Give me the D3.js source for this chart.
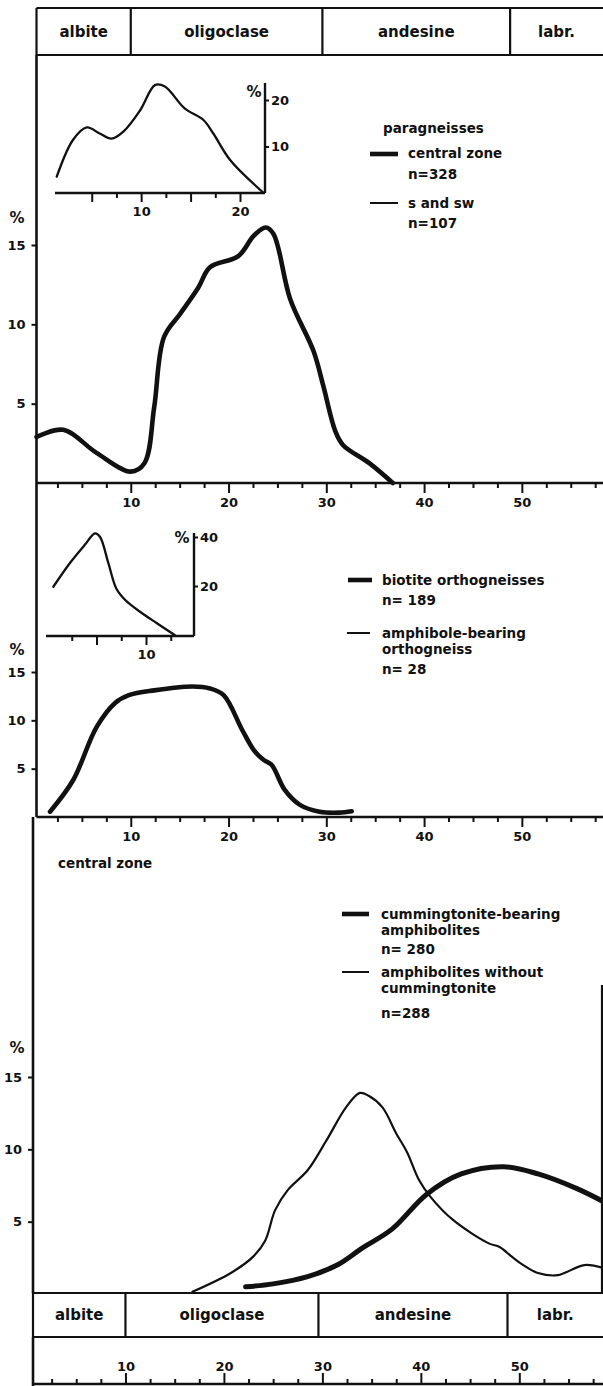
<!DOCTYPE html>
<html>
<head>
<meta charset="utf-8">
<script src="https://cdn.jsdelivr.net/npm/d3@7"></script>
<style>
body { margin: 0; background: #fff; }
svg text { font-family: "DejaVu Sans", sans-serif; font-weight: bold; fill: #111; }
.tick text { font-size: 13px; }
.hdr { font-size: 15px; }
.leg { font-size: 13.5px; }
.pct { font-size: 15px; }
</style>
</head>
<body>
<script>
// ------------  DATA  ------------
const classNames = ["albite", "oligoclase", "andesine", "labr."];
const classBreaks = [0, 10, 29.6, 48.8, 60];   // An % boundaries of the classes
const axisTicks = [10, 20, 30, 40, 50];
const pctTicks = [5, 10, 15];

// paragneisses (An %, frequency %)
const paraCentral = [[0.36,2.9],[3.1,3.35],[6.5,1.9],[10.0,0.72],[11.4,1.25],[12.4,4.8],[13.4,9.2],[15.1,10.7],[16.9,12.3],[18.1,13.6],[21.0,14.3],[22.6,15.6],[23.8,16.1],[24.6,15.7],[26.3,11.6],[28.7,8.3],[29.7,6.1],[30.9,3.3],[31.7,2.4],[34.4,1.25],[36.8,0]];
const paraSouth = [[1.46,3.5],[3.1,11.4],[4.5,14.1],[5.8,12.8],[7.0,11.7],[8.2,13.2],[9.9,17.8],[11.4,23.2],[12.4,22.9],[14.4,18.2],[16.3,15.7],[17.3,12.8],[19.0,7.1],[22.4,0]];
const paraInsetX = [5, 10, 15, 20];
const paraInsetY = [10, 20];

// orthogneisses
const bioOrtho = [[1.74,0.55],[4.1,3.8],[6.5,9.3],[8.4,11.8],[9.8,12.6],[12.4,13.1],[16.3,13.5],[18.1,13.3],[19.5,12.6],[21.4,9.0],[22.6,6.9],[23.6,5.9],[24.4,5.4],[25.75,2.8],[27.3,1.25],[29.3,0.55],[31.3,0.45],[32.6,0.6]];
const amphOrtho = [[0.64,19.7],[2.3,29.3],[3.8,36.7],[4.85,41.5],[5.35,40.1],[6.2,29.3],[7.0,19],[7.9,14.3],[9.4,9.5],[11.1,4.8],[12.9,0]];
const orthoInsetX = [5, 10];
const orthoInsetY = [20, 40];

// amphibolites, central zone
const amphCumm = [[22.2,0.5],[25,0.7],[28.5,1.2],[31.5,2.0],[34.0,3.15],[37.1,4.5],[40.6,6.9],[44.1,8.3],[48.4,8.8],[51.9,8.3],[55.8,7.3],[58.5,6.4]];
const amphNoCumm = [[16.8,0.15],[20.7,1.45],[23.0,2.6],[24.2,3.7],[25.2,5.8],[26.5,7.2],[28.5,8.55],[30.4,10.6],[32.4,12.9],[33.8,13.9],[34.7,13.7],[36.1,12.9],[37.5,11.1],[38.6,9.8],[39.8,7.9],[41.0,6.7],[43.3,5.1],[46.9,3.5],[48.0,3.25],[49.2,2.6],[50.4,2.0],[51.9,1.45],[53.9,1.3],[56.6,2.0],[58.5,1.8]];

// ------------  PARAMETERS  ------------
const W = 603, H = 1386;
const leftTop = 36.5, leftBot = 33;

const svg = d3.select("body").append("svg").attr("width", W).attr("height", H);

// ------------  SCALES  ------------
const xTop = d3.scaleLinear().domain([0, 58.3]).range([33, 603]);
const xBot = d3.scaleLinear().domain([0, 58.5]).range([27, 603]);
const y1 = d3.scaleLinear().domain([0, 15]).range([483, 245]);
const y2 = d3.scaleLinear().domain([0, 15]).range([817, 672]);
const y3 = d3.scaleLinear().domain([0, 15]).range([1294, 1077]);
const xIn1 = d3.scaleLinear().domain([0, 20]).range([42.3, 240]);
const yIn1 = d3.scaleLinear().domain([0, 20]).range([193, 100]);
const xIn2 = d3.scaleLinear().domain([0, 10]).range([47, 146]);
const yIn2 = d3.scaleLinear().domain([0, 40]).range([635, 537]);

const minorTicks = d3.range(2.5, 58, 2.5).filter(v => v % 10 !== 0);

function hline(x1, x2, y, w) {
  svg.append("line").attr("x1", x1).attr("x2", x2).attr("y1", y).attr("y2", y)
    .attr("stroke", "#111").attr("stroke-width", w || 2.2);
}
function vline(x, ya, yb, w) {
  svg.append("line").attr("x1", x).attr("x2", x).attr("y1", ya).attr("y2", yb)
    .attr("stroke", "#111").attr("stroke-width", w || 2.2);
}
function styleAxis(g) {
  g.select(".domain").remove();
  g.selectAll(".tick line").attr("stroke", "#111").attr("stroke-width", 2);
  g.attr("font-family", null).attr("font-size", null);
}
function curve(data, x, y, w) {
  const line = d3.line().x(d => x(d[0])).y(d => y(d[1])).curve(d3.curveCatmullRom.alpha(0.5));
  svg.append("path").datum(data).attr("d", line)
    .attr("fill", "none").attr("stroke", "#111").attr("stroke-width", w)
    .attr("stroke-linecap", "round").attr("stroke-linejoin", "round");
}

// ------------  CLASS HEADERS  ------------
function header(x, top, bottom, left) {
  hline(left, W, top);
  hline(left, W, bottom);
  vline(left, top, bottom);
  classBreaks.slice(1, 4).forEach(b => vline(x(b), top, bottom));
  classNames.forEach((n, i) => {
    const a = Math.max(left, x(classBreaks[i])), b = Math.min(W, x(classBreaks[i + 1]));
    svg.append("text").attr("class", "hdr").attr("x", (a + b) / 2).attr("y", (top + bottom) / 2)
      .attr("text-anchor", "middle").attr("dominant-baseline", "central").text(n);
  });
}
header(xTop, 8, 55, leftTop);
header(xBot, 1293, 1337, leftBot);

// ------------  MAIN AXES  ------------
function xAxis(x, y, left, top) {
  hline(left, W, y, 2.6);
  const mk = top ? d3.axisTop : d3.axisBottom;
  svg.append("g").attr("transform", `translate(0,${y})`)
    .call(mk(x).tickValues(minorTicks).tickSize(5).tickFormat("")).call(styleAxis);
  svg.append("g").attr("transform", `translate(0,${y})`)
    .call(mk(x).tickValues(axisTicks).tickSize(top ? 11 : 10).tickPadding(top ? 2 : 5)).call(styleAxis);
}
function yAxis(y, left, ya, yb, pctY) {
  vline(left, ya, yb, 2.6);
  svg.append("g").attr("transform", `translate(${left},0)`)
    .call(d3.axisLeft(y).tickValues(pctTicks).tickSize(5).tickPadding(6)).call(styleAxis);
  svg.append("text").attr("class", "pct").attr("x", 17).attr("y", pctY)
    .attr("text-anchor", "middle").attr("dominant-baseline", "central").text("%");
}

// panel 1
yAxis(y1, leftTop, 55, 483, 218);
xAxis(xTop, 483, leftTop, false);
// panel 2
yAxis(y2, leftTop, 483, 817, 650);
xAxis(xTop, 817, leftTop, false);
// panel 3
yAxis(y3, leftBot, 817, 1293, 1048);
vline(602, 985, 1293, 2.2);
vline(leftBot, 1337, H, 2.6);
xAxis(xBot, 1384, leftBot, true);

// ------------  INSETS  ------------
function inset(x, y, base, xa, xb, topY, majors, minors, yt, pctX, pctY) {
  hline(xa, xb, base, 2.4);
  vline(xb, base, topY, 2.4);
  svg.append("g").attr("transform", `translate(0,${base})`)
    .call(d3.axisBottom(x).tickValues(minors).tickSize(5).tickFormat("")).call(styleAxis);
  svg.append("g").attr("transform", `translate(0,${base})`)
    .call(d3.axisBottom(x).tickValues(majors).tickSize(9).tickPadding(5)
      .tickFormat(d => d % 10 === 0 ? d : "")).call(styleAxis);
  svg.append("g").attr("transform", `translate(${xb},0)`)
    .call(d3.axisRight(y).tickValues(yt).tickSize(4).tickPadding(2)).call(styleAxis);
  svg.append("text").attr("class", "pct").attr("x", pctX).attr("y", pctY)
    .attr("text-anchor", "middle").attr("dominant-baseline", "central").text("%");
}
inset(xIn1, yIn1, 193, 55, 265, 83, paraInsetX, [7.5, 12.5, 17.5], paraInsetY, 254, 92);
inset(xIn2, yIn2, 636, 46, 194, 533, orthoInsetX, [2.5, 7.5, 12.5], orthoInsetY, 182, 538);

// ------------  CURVES  ------------
curve(paraCentral, xTop, y1, 4.6);
curve(paraSouth, xIn1, yIn1, 2.3);
curve(bioOrtho, xTop, y2, 4.6);
curve(amphOrtho, xIn2, yIn2, 2.3);
curve(amphNoCumm, xBot, y3, 2.2);
curve(amphCumm, xBot, y3, 5);

// ------------  LEGENDS  ------------
function legText(x, y, t) {
  svg.append("text").attr("class", "leg").attr("x", x).attr("y", y).text(t);
}
function legLine(x1, x2, y, w) { hline(x1, x2, y, w); }

legText(383, 133, "paragneisses");
legLine(370, 398, 154, 4.6); legText(408, 158, "central zone"); legText(408, 179, "n=328");
legLine(370, 398, 203, 2); legText(408, 208, "s and sw"); legText(408, 228, "n=107");

legLine(348, 372, 580, 4.6); legText(382, 585, "biotite orthogneisses"); legText(382, 605, "n= 189");
legLine(347, 370, 633, 2); legText(382, 638, "amphibole-bearing"); legText(382, 654, "orthogneiss"); legText(382, 674, "n= 28");

legText(58, 868, "central zone");
legLine(342, 369, 914, 4.6); legText(381, 919, "cummingtonite-bearing"); legText(381, 935, "amphibolites"); legText(381, 954, "n= 280");
legLine(342, 369, 972, 2); legText(381, 977, "amphibolites without"); legText(381, 993, "cummingtonite"); legText(381, 1018, "n=288");
</script>
</body>
</html>
